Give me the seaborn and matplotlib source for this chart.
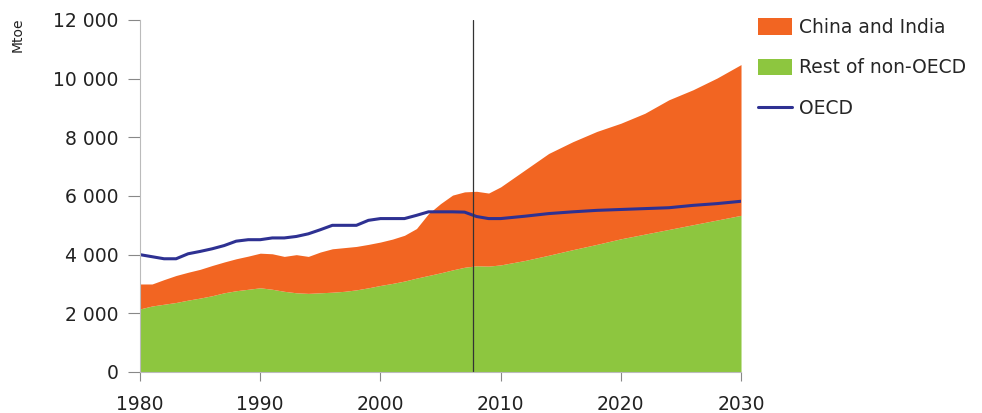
import matplotlib
matplotlib.use("Agg")
import matplotlib.pyplot as plt
import matplotlib.ticker as mticker
from matplotlib.patches import Patch
from matplotlib.lines import Line2D
import pandas as pd
import seaborn as sns

# data (Mtoe)
years = [1980, 1981, 1982, 1983, 1984, 1985, 1986, 1987, 1988, 1989,
         1990, 1991, 1992, 1993, 1994, 1995, 1996, 1997, 1998, 1999,
         2000, 2001, 2002, 2003, 2004, 2005, 2006, 2007, 2008, 2009,
         2010, 2012, 2014, 2016, 2018, 2020, 2022, 2024, 2026, 2028, 2030]
rest_non_oecd = [2150, 2250, 2310, 2370, 2450, 2520, 2600, 2700, 2770, 2820,
                 2870, 2820, 2750, 2700, 2680, 2700, 2720, 2750, 2800, 2870,
                 2950, 3020, 3100, 3200, 3290, 3380, 3480, 3570, 3620, 3610,
                 3650, 3800, 3980, 4170, 4350, 4540, 4700, 4860, 5020, 5180, 5340]
china_india = [850, 750, 840, 920, 950, 980, 1030, 1050, 1090, 1130,
               1180, 1210, 1190, 1300, 1260, 1390, 1480, 1490, 1480, 1480,
               1480, 1510, 1560, 1690, 2110, 2360, 2550, 2570, 2540, 2490,
               2660, 3080, 3470, 3680, 3850, 3940, 4120, 4420, 4600, 4840, 5140]
oecd = [4000, 3930, 3860, 3860, 4030, 4110, 4200, 4310, 4460, 4510,
        4510, 4570, 4570, 4620, 4710, 4850, 5000, 5000, 5000, 5170,
        5230, 5230, 5230, 5340, 5460, 5460, 5460, 5450, 5300, 5230,
        5230, 5310, 5400, 5460, 5510, 5540, 5570, 5600, 5680, 5740, 5820]
base_year = 2007.7
series_labels = ["China and India", "Rest of non-OECD", "OECD"]

orange = "#F26522"
green = "#8DC63F"
blue = "#2E3192"

sns.set_style("white")
plt.rcParams["font.family"] = ["DejaVu Sans"]

df = pd.DataFrame({"Year": years, "OECD": oecd})

fig = plt.figure(figsize=(9.82, 4.13), dpi=100)
ax = fig.add_axes([0.1426, 0.0993, 0.612, 0.8523])

ax.stackplot(years, rest_non_oecd, china_india, colors=[green, orange], linewidth=0)
sns.lineplot(data=df, x="Year", y="OECD", ax=ax, color=blue, linewidth=2.2)
ax.axvline(base_year, ymin=0, ymax=1, color="#333333", linewidth=0.9)

ax.set_xlim(1980, 2030)
ax.set_ylim(0, 12000)
ax.set_xticks([1980, 1990, 2000, 2010, 2020, 2030])
ax.set_yticks(range(0, 12001, 2000))
ax.yaxis.set_major_formatter(mticker.FuncFormatter(lambda v, p: f"{int(v):,}".replace(",", " ")))
ax.set_xlabel("")
ax.set_ylabel("")

for s in ["top", "right"]:
    ax.spines[s].set_visible(False)
ax.spines["left"].set_color("#BBBBBB")
ax.spines["bottom"].set_color("#BBBBBB")
ax.spines["left"].set_linewidth(0.8)
ax.spines["bottom"].set_linewidth(0.8)
ax.tick_params(axis="both", which="both", direction="out", width=0.8,
               color="#888888", labelsize=13.5, labelcolor="#222222", left=True, bottom=True)
ax.tick_params(axis="y", length=8.5, pad=7)
ax.tick_params(axis="x", length=6.5, pad=10)

fig.text(0.018, 0.915, "Mtoe", rotation=90, fontsize=10, ha="center", va="center", color="#222222")

handles = [Patch(facecolor=orange, edgecolor="none"),
           Patch(facecolor=green, edgecolor="none"),
           Line2D([0], [0], color=blue, linewidth=2.2)]
ax.legend(handles, series_labels, loc="upper left", bbox_to_anchor=(1.028, 1.006),
          frameon=False, fontsize=13.5, handlelength=1.8, handleheight=1.0,
          labelspacing=1.15, handletextpad=0.4, borderaxespad=0, borderpad=0)

fig.savefig("out.png", dpi=100)
